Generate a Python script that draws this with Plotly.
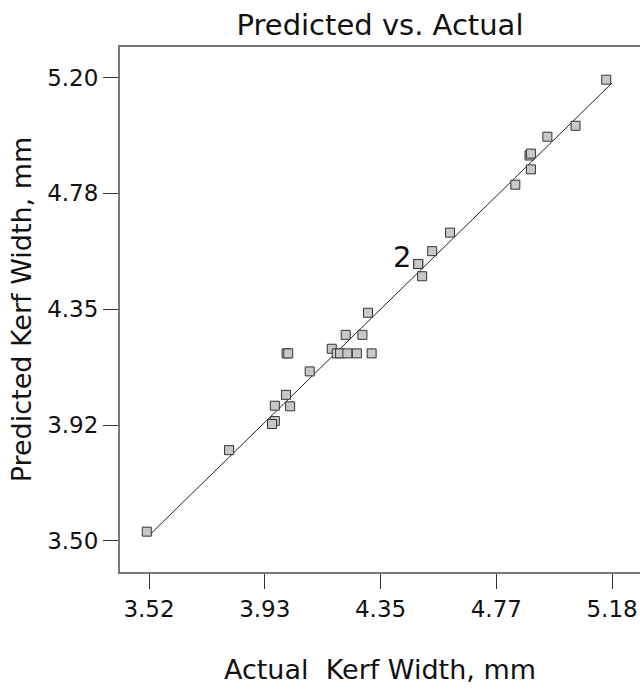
import plotly.graph_objects as go

# Data
actual = [5.159, 5.049, 4.948, 4.884, 4.889, 4.889, 4.833, 4.599, 4.535, 4.485, 4.485,
          4.499, 4.305, 4.225, 4.285, 4.175, 4.013, 4.019, 4.193, 4.205, 4.231, 4.265,
          4.318, 4.096, 4.011, 3.971, 4.026, 3.971, 3.961, 3.807, 3.512]
predicted = [5.192, 5.023, 4.983, 4.914, 4.921, 4.863, 4.807, 4.631, 4.563, 4.516, 4.516,
             4.471, 4.337, 4.256, 4.256, 4.205, 4.188, 4.188, 4.188, 4.188, 4.188, 4.188,
             4.188, 4.122, 4.036, 3.996, 3.994, 3.940, 3.929, 3.833, 3.534]

x_ticks = [3.52, 3.935, 4.35, 4.765, 5.18]
x_tick_text = ["3.52", "3.93", "4.35", "4.77", "5.18"]
y_ticks = [3.50, 3.925, 4.35, 4.775, 5.20]
y_tick_text = ["3.50", "3.92", "4.35", "4.78", "5.20"]

dup_point = (4.485, 4.516)
dup_label = "2"

FONT = "DejaVu Sans"
W, H = 640, 689

fig = go.Figure()

# reference line y = x across the actual range
fig.add_trace(go.Scatter(
    x=[x_ticks[0], x_ticks[-1]], y=[x_ticks[0], x_ticks[-1]],
    mode="lines", line=dict(color="#222222", width=1),
    showlegend=False, hoverinfo="skip"))

fig.add_trace(go.Scatter(
    x=actual, y=predicted, mode="markers",
    marker=dict(symbol="square", size=9, color="#c8c8c8",
                line=dict(color="#333333", width=1)),
    showlegend=False))

fig.add_annotation(x=dup_point[0], y=dup_point[1], text=dup_label, showarrow=False,
                   xanchor="right", yanchor="middle", xshift=-5, yshift=7,
                   font=dict(family=FONT, size=29, color="#111111"))

fig.update_layout(
    width=W, height=H,
    margin=dict(l=120, r=0, t=47, b=117),
    paper_bgcolor="white", plot_bgcolor="white",
    font=dict(family=FONT, color="#111111"),
    title=dict(text="Predicted vs. Actual", x=0.5, xref="paper", xanchor="center",
               y=1 - 25 / H, yref="container", yanchor="middle",
               font=dict(family=FONT, size=29, color="#111111")),
    xaxis=dict(range=[3.416, 5.28], tickvals=x_ticks, ticktext=x_tick_text,
               showline=True, linecolor="#777777", linewidth=2, mirror=True,
               ticks="outside", ticklen=15, tickcolor="#333333", tickwidth=1,
               showgrid=False, zeroline=False,
               tickfont=dict(family=FONT, size=23, color="#111111"),
               title=dict(text="Actual\u00a0 Kerf Width, mm", standoff=40,
                          font=dict(family=FONT, size=27, color="#111111")),
               automargin=False),
    yaxis=dict(range=[3.386, 5.312], tickvals=y_ticks, ticktext=y_tick_text,
               showline=True, linecolor="#777777", linewidth=2,
               ticks="outside", ticklen=15, tickcolor="#333333", tickwidth=1,
               showgrid=False, zeroline=False,
               tickfont=dict(family=FONT, size=23, color="#111111"),
               title=dict(text="Predicted Kerf Width, mm", standoff=8,
                          font=dict(family=FONT, size=27, color="#111111")),
               automargin=False),
)

fig.write_html(
    "out.html",
    config={"displayModeBar": False},
    post_script="document.body.style.margin='0';document.body.style.overflow='hidden';",
)
